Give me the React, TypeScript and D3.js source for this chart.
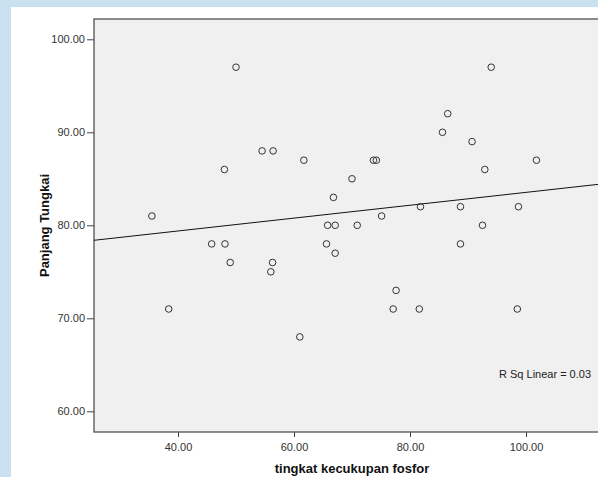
import React, { useEffect, useRef } from 'react'
import * as d3 from 'd3'

// tingkat kecukupan fosfor (x) vs Panjang Tungkai (y)
const fosfor = [
  50, 54.5, 56.4, 48, 35.5,
  94, 86.5, 85.6, 90.7, 61.7, 73.7, 74.2, 101.8, 92.9, 70, 66.8, 81.8, 88.7, 98.7,
  75.1, 65.8, 67.1, 70.9, 92.5,
  45.8, 48.1, 49, 56.3, 56, 38.4, 61,
  65.6, 88.7, 67.1, 77.6, 77.1, 81.6, 98.5,
]
const panjang = [
  97, 88, 88, 86, 81,
  97, 92, 90, 89, 87, 87, 87, 87, 86, 85, 83, 82, 82, 82,
  81, 80, 80, 80, 80,
  78, 78, 76, 76, 75, 71, 68,
  78, 78, 77, 73, 71, 71, 71,
]
const xTicks = [40, 60, 80, 100]
const yTicks = [60, 70, 80, 90, 100]
const rSqLabel = 'R Sq Linear = 0.03'

const W = 598
const H = 477

export default function App() {
  const ref = useRef<SVGSVGElement>(null)

  useEffect(() => {
    if (!ref.current) return
    const svg = d3.select(ref.current)
    svg.selectAll('*').remove()

    const font = 'Arial, "Liberation Sans", sans-serif'
    const plot = { left: 94, top: 19, right: 620, bottom: 432 }

    const x = d3.scaleLinear().domain([40, 100]).range([178, 526])
    const y = d3.scaleLinear().domain([60, 100]).range([411.3, 39.3])

    // watermark-ish background + white panel
    svg.append('rect').attr('width', W).attr('height', H).attr('fill', '#c9e1f1')
    svg.append('rect').attr('x', 11).attr('y', 7).attr('width', W).attr('height', H).attr('fill', '#ffffff')

    svg.append('rect')
      .attr('x', plot.left).attr('y', plot.top)
      .attr('width', plot.right - plot.left).attr('height', plot.bottom - plot.top)
      .attr('fill', '#f0f0f0')
      .attr('stroke', '#444').attr('stroke-width', 1.2)

    // axes
    const xAxis = svg.append('g')
      .attr('transform', `translate(0,${plot.bottom})`)
      .call(d3.axisBottom(x).tickValues(xTicks).tickSize(5).tickPadding(6).tickFormat((d: any) => d3.format('.2f')(d)))
    const yAxis = svg.append('g')
      .attr('transform', `translate(${plot.left},0)`)
      .call(d3.axisLeft(y).tickValues(yTicks).tickSize(7).tickPadding(2).tickFormat((d: any) => d3.format('.2f')(d)))
    for (const ax of [xAxis, yAxis]) {
      ax.select('.domain').remove()
      ax.selectAll('line').attr('stroke', '#444')
      ax.selectAll('text').attr('fill', '#333').style('font-family', font).style('font-size', '11px')
    }

    // regression line (least squares from the points)
    const mx = d3.mean(fosfor) as number
    const my = d3.mean(panjang) as number
    let sxy = 0, sxx = 0
    fosfor.forEach((v, i) => { sxy += (v - mx) * (panjang[i] - my); sxx += (v - mx) * (v - mx) })
    const slope = sxy / sxx
    const icpt = my - slope * mx
    const x0 = x.invert(plot.left), x1 = x.invert(plot.right)
    svg.append('line')
      .attr('x1', x(x0)).attr('y1', y(icpt + slope * x0))
      .attr('x2', x(x1)).attr('y2', y(icpt + slope * x1))
      .attr('stroke', '#111').attr('stroke-width', 1)

    svg.append('g')
      .selectAll('circle')
      .data(fosfor)
      .enter()
      .append('circle')
      .attr('cx', (d) => x(d))
      .attr('cy', (_d, i) => y(panjang[i]))
      .attr('r', 3.3)
      .attr('fill', 'none')
      .attr('stroke', '#333')
      .attr('stroke-width', 1)

    svg.append('text')
      .attr('x', 499).attr('y', 378)
      .text(rSqLabel)
      .attr('fill', '#222')
      .style('font-family', font).style('font-size', '11px')

    svg.append('text')
      .attr('x', 352).attr('y', 473)
      .attr('text-anchor', 'middle')
      .text('tingkat kecukupan fosfor')
      .attr('fill', '#111')
      .style('font-family', font).style('font-size', '13px').style('font-weight', 'bold')

    svg.append('text')
      .attr('transform', 'rotate(-90)')
      .attr('x', -(plot.top + plot.bottom) / 2).attr('y', 49)
      .attr('text-anchor', 'middle')
      .text('Panjang Tungkai')
      .attr('fill', '#111')
      .style('font-family', font).style('font-size', '13px').style('font-weight', 'bold')
  }, [])

  return (
    <div style={{ position: 'fixed', left: 0, top: 0 }}>
      <svg ref={ref} width={W} height={H} style={{ display: 'block' }} />
    </div>
  )
}
